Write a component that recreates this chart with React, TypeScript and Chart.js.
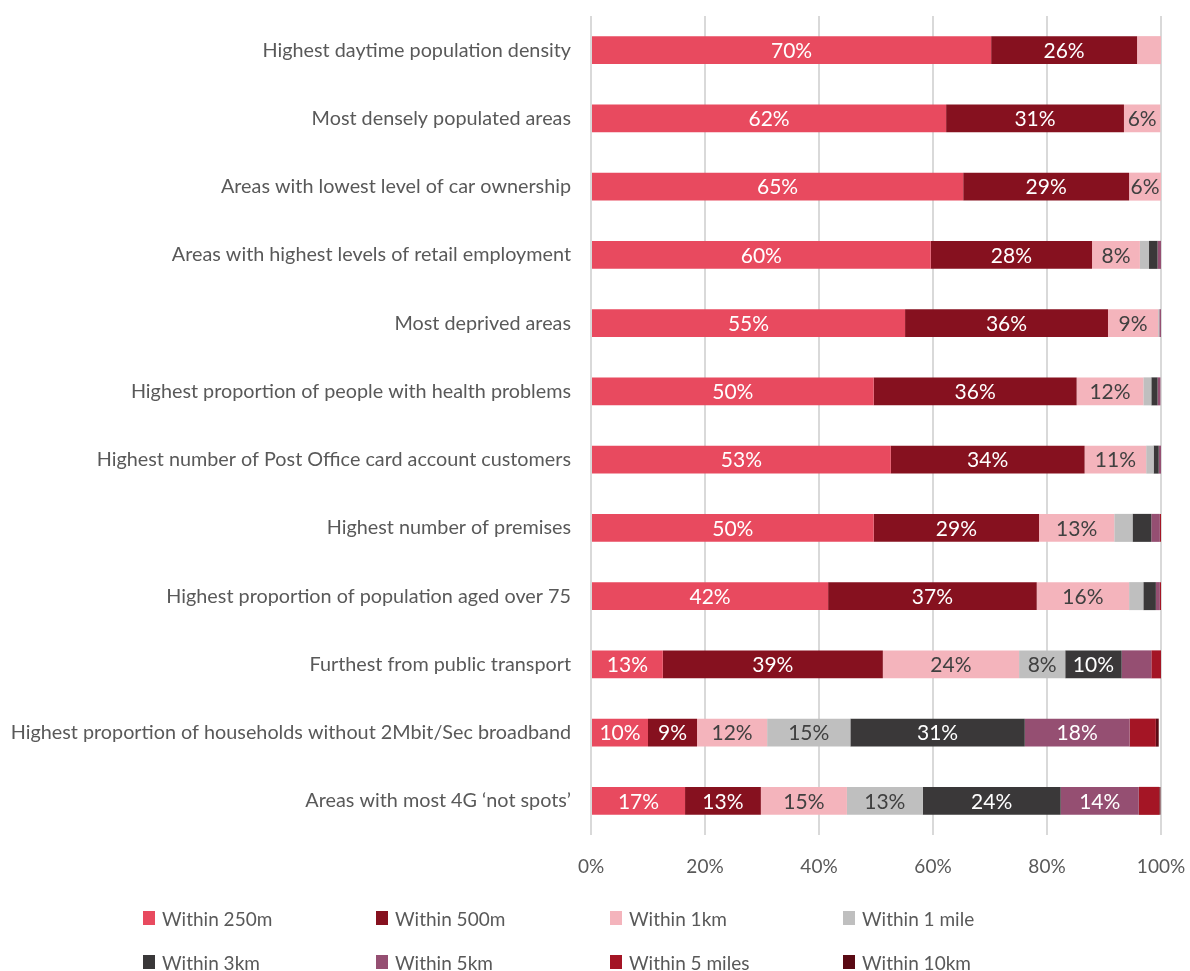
import React, { useEffect, useRef } from "react";
import { Chart, registerables } from "chart.js";

Chart.register(...registerables);

const categories = [
  "Highest daytime population density",
  "Most densely populated areas",
  "Areas with lowest level of car ownership",
  "Areas with highest levels of retail employment",
  "Most deprived areas",
  "Highest proportion of people with health problems",
  "Highest number of Post Office card account customers",
  "Highest number of premises",
  "Highest proportion of population aged over 75",
  "Furthest from public transport",
  "Highest proportion of households without 2Mbit/Sec broadband",
  "Areas with most 4G \u2018not spots\u2019",
];

const seriesNames = [
  "Within 250m",
  "Within 500m",
  "Within 1km",
  "Within 1 mile",
  "Within 3km",
  "Within 5km",
  "Within 5 miles",
  "Within 10km",
];

const within250m = [70.2, 62.3, 65.3, 59.6, 55.1, 49.6, 52.6, 49.6, 41.6, 12.6, 10.0, 16.5];
const within500m = [25.6, 31.2, 29.1, 28.3, 35.6, 35.6, 34.0, 29.0, 36.6, 38.6, 8.6, 13.3];
const within1km = [4.2, 6.4, 5.6, 8.4, 8.8, 11.7, 10.8, 13.2, 16.2, 23.9, 12.3, 15.1];
const within1mile = [0, 0, 0, 1.6, 0.2, 1.4, 1.3, 3.2, 2.5, 8.1, 14.6, 13.3];
const within3km = [0, 0, 0, 1.5, 0, 1.1, 0.9, 3.3, 2.2, 9.9, 30.6, 24.2];
const within5km = [0, 0, 0, 0.6, 0.3, 0.5, 0.4, 1.5, 0.7, 5.2, 18.4, 13.7];
const within5miles = [0, 0, 0, 0, 0, 0, 0, 0.2, 0.2, 1.7, 4.6, 3.6];
const within10km = [0, 0, 0, 0, 0, 0, 0, 0, 0, 0, 0.5, 0.2];

const xTicks = [0, 20, 40, 60, 80, 100];

const seriesValues = [
  within250m,
  within500m,
  within1km,
  within1mile,
  within3km,
  within5km,
  within5miles,
  within10km,
];

const colors = [
  "#E84A5F",
  "#86111F",
  "#F4B4BC",
  "#BFBFBF",
  "#3A3839",
  "#954F72",
  "#A41525",
  "#5A0A14",
];

const labelColors = ["#FFFFFF", "#FFFFFF", "#404040", "#404040", "#FFFFFF", "#FFFFFF", "#FFFFFF", "#FFFFFF"];

const FONT = "Lato, 'Open Sans', sans-serif";
const TEXT = "#595959";

const dataLabelPlugin = {
  id: "segLabels",
  afterDatasetsDraw(chart: any) {
    const ctx = chart.ctx;
    ctx.save();
    ctx.font = `21px ${FONT}`;
    ctx.textAlign = "center";
    ctx.textBaseline = "middle";
    chart.data.datasets.forEach((ds: any, di: number) => {
      const meta = chart.getDatasetMeta(di);
      meta.data.forEach((el: any, i: number) => {
        const v = ds.data[i];
        if (v < 5.5) return;
        const cx = (el.x + el.base) / 2;
        ctx.fillStyle = labelColors[di];
        ctx.fillText(Math.round(v) + "%", cx, el.y + 1);
      });
    });
    ctx.restore();
  },
};

export default function App() {
  const ref = useRef<HTMLCanvasElement>(null);

  useEffect(() => {
    if (!ref.current) return;
    const chart = new Chart(ref.current, {
      type: "bar",
      data: {
        labels: categories,
        datasets: seriesValues.map((vals, i) => ({
          label: seriesNames[i],
          data: vals,
          backgroundColor: colors[i],
          borderWidth: 0,
          categoryPercentage: 1,
          barPercentage: 0.41,
        })),
      },
      options: {
        indexAxis: "y",
        responsive: false,
        animation: false,
        layout: { padding: { top: 16, right: 29, bottom: 86, left: 0 } },
        plugins: {
          legend: { display: false },
          tooltip: { enabled: false },
        },
        scales: {
          x: {
            stacked: true,
            min: 0,
            max: 100,
            afterFit: (s: any) => {
              s.height = 50;
              s.paddingLeft = 0;
              s.paddingRight = 0;
              s.paddingTop = 0;
              s.paddingBottom = 0;
            },
            afterBuildTicks: (s: any) => {
              s.ticks = xTicks.map((v) => ({ value: v }));
            },
            ticks: {
              padding: 20,
              color: TEXT,
              font: { family: FONT, size: 19 },
              callback: (v: any) => v + "%",
            },
            grid: { color: "#D9D9D9", lineWidth: 2, drawTicks: false },
            border: { display: false },
          },
          y: {
            stacked: true,
            afterFit: (s: any) => {
              s.width = 591;
              s.paddingLeft = 0;
              s.paddingRight = 0;
              s.paddingTop = 0;
              s.paddingBottom = 0;
            },
            ticks: {
              padding: 20,
              color: TEXT,
              font: { family: FONT, size: 19.8 },
            },
            grid: { display: false, drawTicks: false },
            border: { display: false },
          },
        },
      },
      plugins: [dataLabelPlugin],
    });
    return () => chart.destroy();
  }, []);

  const legendX = [143, 376, 610, 843];
  const legendY = [918, 962];

  return (
    <div style={{ position: "absolute", left: 0, top: 0, width: 1190, height: 971, background: "#fff" }}>
      <canvas ref={ref} width={1190} height={971} style={{ position: "absolute", left: 0, top: 0 }} />
      {seriesNames.map((name, i) => {
        const x = legendX[i % 4];
        const y = legendY[Math.floor(i / 4)];
        return (
          <div
            key={name}
            style={{
              position: "absolute",
              left: x,
              top: y - 12,
              height: 24,
              display: "flex",
              alignItems: "center",
              fontFamily: FONT,
              fontSize: 19,
              color: TEXT,
              whiteSpace: "nowrap",
            }}
          >
            <span style={{ display: "inline-block", width: 12, height: 14, background: colors[i], marginRight: 7 }} />
            <span>{name}</span>
          </div>
        );
      })}
    </div>
  );
}
